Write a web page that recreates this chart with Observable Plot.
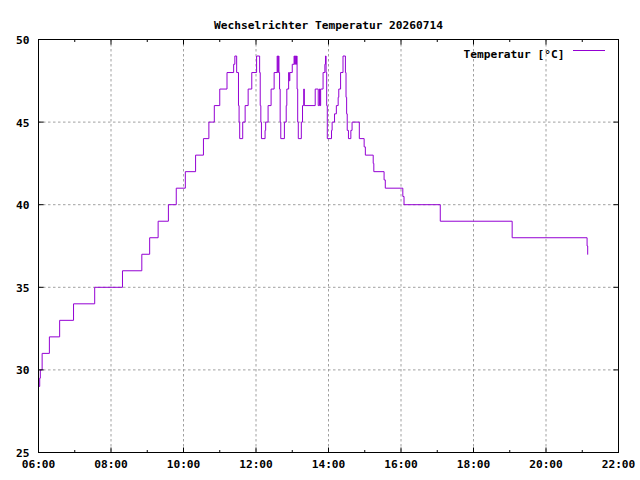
<!DOCTYPE html>
<html>
<head>
<meta charset="utf-8">
<script src="https://cdn.jsdelivr.net/npm/d3@7"></script>
<script src="https://cdn.jsdelivr.net/npm/@observablehq/plot@0.6"></script>
<style>
  html, body { margin: 0; padding: 0; background: white; }
</style>
</head>
<body>
<div id="chart"></div>
<script>
const title = "Wechselrichter Temperatur 20260714";
const seriesName = "Temperatur [°C]";
const day = [2026, 6, 14];

const times = [
  "06:01","06:02","06:03","06:06","06:18","06:35","06:58","07:33","08:19","08:51",
  "09:04","09:18","09:35","09:48","10:03","10:20","10:33","10:42","10:51","11:00",
  "11:12","11:23","11:25","11:28","11:31","11:32","11:33","11:38","11:42","11:47",
  "11:53","12:01","12:06","12:07","12:08","12:09","12:15","12:16","12:20","12:25",
  "12:30","12:35","12:36","12:37","12:38","12:39","12:40","12:41","12:47","12:50",
  "12:51","12:54","12:55","12:56","13:00","13:03","13:04","13:05","13:06","13:07",
  "13:08","13:09","13:10","13:15","13:17","13:19","13:20","13:38","13:43","13:45",
  "13:46","13:47","13:51","13:54","13:55","13:56","13:57","13:58","14:05","14:06",
  "14:10","14:13","14:16","14:17","14:20","14:24","14:28","14:29","14:30","14:31",
  "14:33","14:37","14:39","14:51","14:59","15:01","15:14","15:15","15:32","15:34",
  "16:03","16:05","17:05","19:04","21:08","21:09"
];
const temps = [
  29, 29.5, 30, 31, 32, 33, 34, 35, 36, 37,
  38, 39, 40, 41, 42, 43, 44, 45, 46, 47,
  48, 48.5, 49, 48, 46, 45, 44, 45, 46, 47,
  48, 49, 48, 46, 45, 44, 44.5, 45, 46, 47,
  48, 49, 48, 49, 48, 47, 45, 44, 45, 46,
  47, 48, 47.5, 48, 48.5, 49, 48.5, 49, 48.5, 49,
  47, 45, 44, 45, 46, 47, 46, 47, 46, 47,
  46, 47, 48, 48.5, 49, 48, 46, 44, 44.5, 45,
  45.5, 46, 46.5, 47, 48, 49, 48, 46.5, 45.5, 44.5,
  44, 44.5, 45, 44, 43.5, 43, 42.5, 42, 41.5, 41,
  40.5, 40, 39, 38, 37.5, 37
];

const xMajorHours = [6, 8, 10, 12, 14, 16, 18, 20, 22];
const xMinorHours = [7, 9, 11, 13, 15, 17, 19, 21];
const yTicks = [25, 30, 35, 40, 45, 50];

const toDate = (h, m = 0) => new Date(Date.UTC(day[0], day[1], day[2], h, m));
const parseHM = s => { const [h, m] = s.split(":").map(Number); return toDate(h, m); };

const data = times.map((t, i) => ({time: parseHM(t), temp: temps[i]}));
const xMajor = xMajorHours.map(h => toDate(h));
const xMinor = xMinorHours.map(h => toDate(h));
const fmt = d3.utcFormat("%H:%M");

const lineShape = { draw(context, l) { context.moveTo(0, 0); context.lineTo(0, -l); } };
const purple = "#9400d3";
const gridColor = "#a0a0a0";
const tickOpts = {shape: lineShape, anchor: "start", stroke: "black", strokeWidth: 1, strokeLinecap: "butt"};

const chart = Plot.plot({
  width: 640,
  height: 480,
  marginLeft: 38,
  marginRight: 22,
  marginTop: 39,
  marginBottom: 28,
  style: {fontFamily: "DejaVu Sans Mono", fontSize: "11.2px", fontWeight: "bold", background: "white", color: "black"},
  x: {type: "utc", domain: [toDate(6), toDate(22)], axis: null},
  y: {domain: [25, 50], axis: null},
  marks: [
    Plot.ruleX(xMajor.slice(1, -1), {stroke: gridColor, strokeDasharray: "2.5,2.5"}),
    Plot.ruleY(yTicks.slice(1, -1), {stroke: gridColor, strokeDasharray: "2.5,2.5"}),
    Plot.line(data, {x: "time", y: "temp", curve: "step-after", stroke: purple, strokeWidth: 1}),
    Plot.frame({stroke: "black"}),
    Plot.vector(xMajor, {x: d => d, frameAnchor: "bottom", rotate: 0, length: 5, ...tickOpts}),
    Plot.vector(xMajor, {x: d => d, frameAnchor: "top", rotate: 180, length: 5, ...tickOpts}),
    Plot.vector(xMinor, {x: d => d, frameAnchor: "bottom", rotate: 0, length: 2.5, ...tickOpts}),
    Plot.vector(xMinor, {x: d => d, frameAnchor: "top", rotate: 180, length: 2.5, ...tickOpts}),
    Plot.vector(yTicks, {y: d => d, frameAnchor: "left", rotate: 90, length: 5, ...tickOpts}),
    Plot.vector(yTicks, {y: d => d, frameAnchor: "right", rotate: -90, length: 5, ...tickOpts}),
    Plot.text(xMajor, {x: d => d, frameAnchor: "bottom", dy: 15.5, text: d => fmt(d), fill: "black"}),
    Plot.text(yTicks, {y: d => d, frameAnchor: "left", dx: -9, dy: 1, textAnchor: "end", text: d => String(d), fill: "black"}),
    Plot.text([title], {frameAnchor: "top", dy: -18, text: d => d, fill: "black"}),
    Plot.text([seriesName], {frameAnchor: "top-right", dx: -54, dy: 11, textAnchor: "end", text: d => d, fill: "black"}),
    Plot.vector([0], {frameAnchor: "top-right", dx: -13.5, dy: 11, rotate: -90, length: 32, shape: lineShape, anchor: "start", stroke: purple, strokeWidth: 1, strokeLinecap: "butt"})
  ]
});
document.getElementById("chart").appendChild(chart);
</script>
</body>
</html>
